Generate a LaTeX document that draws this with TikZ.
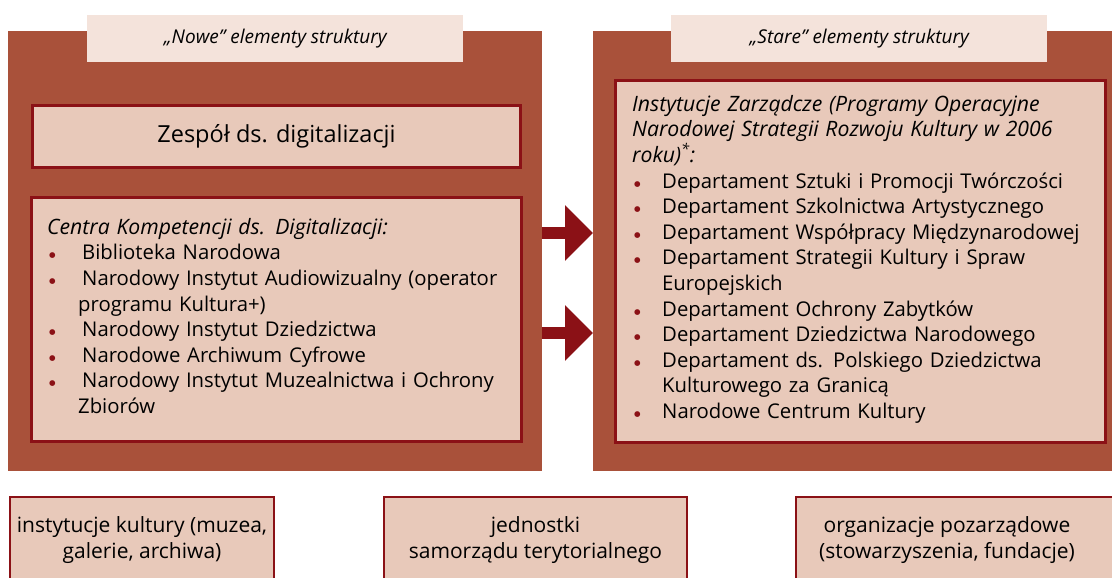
\documentclass[tikz,border=0pt]{standalone}
\usepackage{fontspec}
\setmainfont{Open Sans}
\newfontfamily\dejavu{DejaVu Sans}
\usetikzlibrary{arrows.meta}
\definecolor{panelc}{HTML}{A9513A}
\definecolor{labelc}{HTML}{F4E3DB}
\definecolor{innerc}{HTML}{E8C9BA}
\definecolor{bd}{HTML}{8B1116}
\newcommand{\blt}{\textcolor{bd}{\raisebox{2pt}{\dejavu\fontsize{7.5}{8}\selectfont ●}}}
\newcommand{\litem}[1]{\par\hangindent=31pt\hangafter=1\noindent\makebox[35pt][l]{\hspace{2pt}\blt}#1}
\newcommand{\ritem}[1]{\par\hangindent=30pt\hangafter=1\noindent\makebox[30pt][l]{\hspace{2pt}\blt}#1}
\newcommand{\headit}{\fontsize{21.2}{25.6}\selectfont\itshape}
\tikzset{
  panel/.style={fill=panelc, draw=none, anchor=north west, inner sep=0pt},
  lab/.style={fill=labelc, draw=none, anchor=north west, inner sep=0pt},
  labtxt/.style={font=\fontsize{19}{22}\selectfont\itshape},
  inner/.style={fill=innerc, draw=bd, line width=3pt, anchor=north west, inner sep=0pt},
  txt/.style={anchor=north west, inner sep=0pt, align=left, font=\fontsize{20.3}{25.6}\selectfont},
  bigarrow/.style={draw=bd, line width=12pt, -{Triangle[length=28pt,width=54pt]}, bd},
  bottombox/.style={fill=innerc, draw=bd, line width=2pt, anchor=north west, inner sep=0pt},
  bottomtxt/.style={align=center, font=\fontsize{21}{26.5}\selectfont}
}
\begin{document}
\begin{tikzpicture}[x=1pt,y=-1pt]
\useasboundingbox (0,0) rectangle (1112,578);
\clip (0,0) rectangle (1112,578);
% panels
\node[panel, minimum width=534pt, minimum height=440pt] (lp) at (8,31) {};
\node[panel, minimum width=530pt, minimum height=440pt] (rp) at (593,31) {};
% labels
\node[lab, minimum width=376pt, minimum height=47pt] (ll) at (87,15) {};
\node[labtxt] at (ll.center) {„Nowe” elementy struktury};
\node[lab, minimum width=376pt, minimum height=47pt] (rl) at (671,15) {};
\node[labtxt] at (rl.center) {„Stare” elementy struktury};
% left inner boxes
\node[inner, minimum width=488pt, minimum height=62pt] (zes) at (31,104) {};
\node[font=\fontsize{23.5}{28}\selectfont] at (zes.center) {Zespół ds. digitalizacji};
\node[inner, minimum width=490pt, minimum height=244pt] (ckd) at (30,196) {};
\node[txt, text width=470pt] (ckdt) at (47,218) {{\headit Centra Kompetencji ds. Digitalizacji:}
\litem{Biblioteka Narodowa}
\litem{Narodowy Instytut Audiowizualny (operator\newline programu Kultura+)}
\litem{Narodowy Instytut Dziedzictwa}
\litem{Narodowe Archiwum Cyfrowe}
\litem{Narodowy Instytut Muzealnictwa i Ochrony\newline Zbiorów}\par};
% right inner box
\node[inner, minimum width=490pt, minimum height=362pt] (iz) at (614,79) {};
\node[txt, text width=470pt] (izt) at (632,95) {{\headit Instytucje Zarządcze (Programy Operacyjne\newline Narodowej Strategii Rozwoju Kultury w 2006\newline roku)\textsuperscript{*}:}
\ritem{Departament Sztuki i Promocji Twórczości}
\ritem{Departament Szkolnictwa Artystycznego}
\ritem{Departament Współpracy Międzynarodowej}
\ritem{Departament Strategii Kultury i Spraw\newline Europejskich}
\ritem{Departament Ochrony Zabytków}
\ritem{Departament Dziedzictwa Narodowego}
\ritem{Departament ds. Polskiego Dziedzictwa\newline Kulturowego za Granicą}
\ritem{Narodowe Centrum Kultury}\par};
% arrows
\coordinate (a1) at (0,233);
\coordinate (a2) at (0,333);
\draw[bigarrow] (lp.east |- a1) -- (rp.west |- a1);
\draw[bigarrow] (lp.east |- a2) -- (rp.west |- a2);
% bottom boxes
\node[bottombox, minimum width=264pt, minimum height=100pt] (b1) at (9,496) {};
\node[bottomtxt] at ([yshift=-44pt]b1.north) {instytucje kultury (muzea,\\galerie, archiwa)};
\node[bottombox, minimum width=303pt, minimum height=100pt] (b2) at (383,496) {};
\node[bottomtxt] at ([yshift=-44pt]b2.north) {jednostki\\samorządu terytorialnego};
\node[bottombox, minimum width=330pt, minimum height=100pt] (b3) at (795,496) {};
\node[bottomtxt] at ([xshift=-14pt,yshift=-44pt]b3.north) {organizacje pozarządowe\\(stowarzyszenia, fundacje)};
\end{tikzpicture}
\end{document}
